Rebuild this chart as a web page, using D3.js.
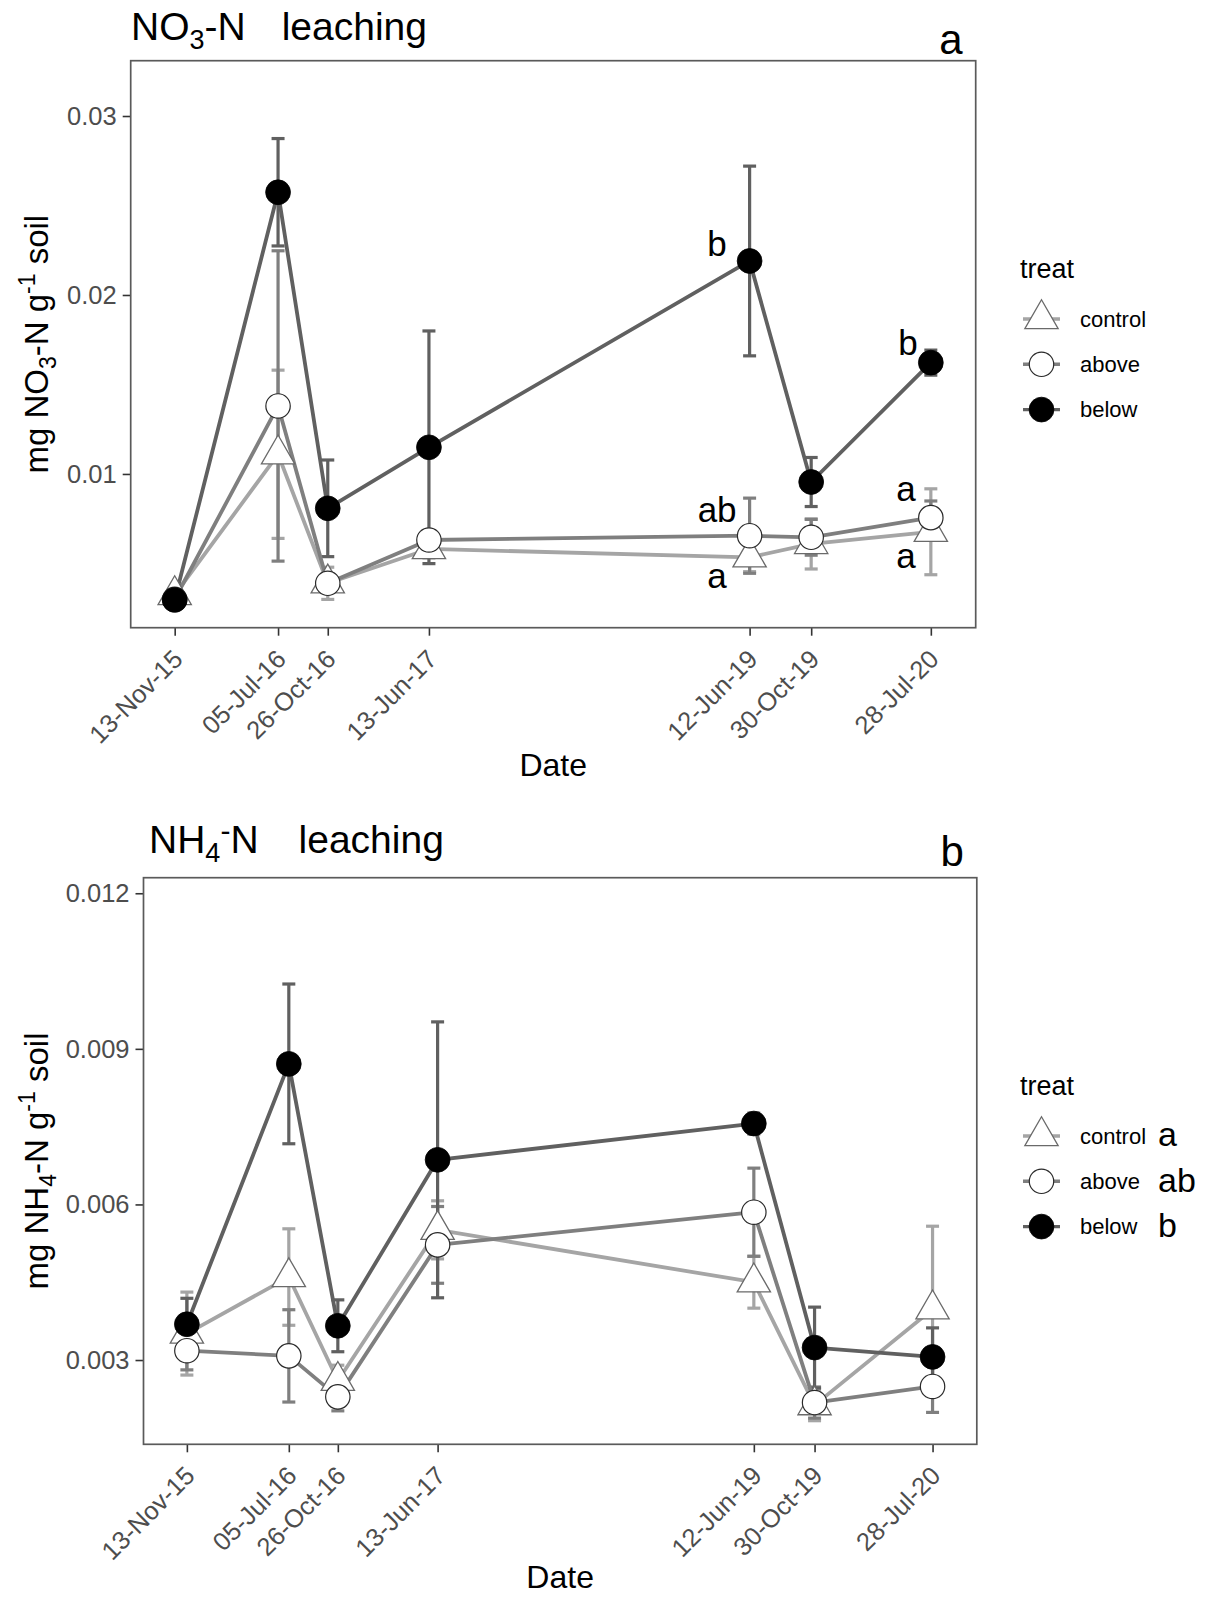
<!DOCTYPE html>
<html><head><meta charset="utf-8">
<script src="https://cdn.jsdelivr.net/npm/d3@7"></script>
<style>
body{margin:0;background:#fff}
text{font-family:"Liberation Sans",Arial,Helvetica,sans-serif;white-space:pre}
</style>
</head><body>
<svg id="chart" width="1216" height="1599"></svg>
<script>
// ---------------- data ----------------
const dates = ["2015-11-13","2016-07-05","2016-10-26","2017-06-13","2019-06-12","2019-10-30","2020-07-28"];
const dateLabels = ["13-Nov-15","05-Jul-16","26-Oct-16","13-Jun-17","12-Jun-19","30-Oct-19","28-Jul-20"];
const treatments = ["control","above","below"];

// NO3-N leaching (mg NO3-N g-1 soil), mean and SE
const no3Control = [0.00324, 0.0111, 0.00389, 0.00581, 0.00534, 0.00609, 0.00677];
const no3ControlSE = [0.0002, 0.0047, 0.0009, 0.0005, 0.0008, 0.0014, 0.0024];
const no3Above = [0.0030, 0.0138, 0.00389, 0.00631, 0.00655, 0.00646, 0.00756];
const no3AboveSE = [0.0002, 0.00867, 0.0004, 0.0004, 0.0021, 0.0010, 0.00093];
const no3Below = [0.00296, 0.02574, 0.00808, 0.01149, 0.0219, 0.00955, 0.01622];
const no3BelowSE = [0.0002, 0.0030, 0.0027, 0.0065, 0.0053, 0.00137, 0.0007];
const no3Ticks = [0.01, 0.02, 0.03];
const no3TickLabels = ["0.01", "0.02", "0.03"];
// significance letters: date index, y value, text
const no3LetterIdx = [4, 4, 4, 6, 6, 6];
const no3LetterVal = [0.02218, 0.00732, 0.00363, 0.01665, 0.00849, 0.00475];
const no3LetterText = ["b", "ab", "a", "b", "a", "a"];

// NH4-N leaching (mg NH4-N g-1 soil), mean and SE
const nh4Control = [0.00351, 0.0046, 0.0026, 0.00551, 0.0045, 0.00213, 0.00398];
const nh4ControlSE = [0.0008, 0.00093, 0.0003, 0.00056, 0.0005, 0.0003, 0.0016];
const nh4Above = [0.00318, 0.00308, 0.00229, 0.00522, 0.00585, 0.00218, 0.00249];
const nh4AboveSE = [0.00037, 0.00089, 0.00027, 0.00074, 0.00085, 0.0003, 0.0005];
const nh4Below = [0.00369, 0.00871, 0.00366, 0.00686, 0.00756, 0.00324, 0.00306];
const nh4BelowSE = [0.0005, 0.00154, 0.0005, 0.00266, 0.0002, 0.00078, 0.00056];
const nh4Ticks = [0.003, 0.006, 0.009, 0.012];
const nh4TickLabels = ["0.003", "0.006", "0.009", "0.012"];
const nh4LegendLetters = ["a", "ab", "b"];

// ---------------- drawing ----------------
const svg = d3.select("#chart");
const parse = d3.timeParse("%Y-%m-%d");
const dateObjs = dates.map(parse);
const DAY = 864e5;
const FONT = '"Liberation Sans",Arial,sans-serif';

const lineColor = {control:"#a5a5a5", above:"#7f7f7f", below:"#606060"};
const tri = d3.symbol().type(d3.symbolTriangle).size(480)();

function drawPoint(g, t, x, y){
  if (t === "control") {
    g.append("path").attr("d", tri).attr("transform", `translate(${x},${y})`)
      .attr("fill", "#fff").attr("stroke", "#6a6a6a").attr("stroke-width", 1.3);
  } else if (t === "above") {
    g.append("circle").attr("cx", x).attr("cy", y).attr("r", 12.2)
      .attr("fill", "#fff").attr("stroke", "#2a2a2a").attr("stroke-width", 1.2);
  } else {
    g.append("circle").attr("cx", x).attr("cy", y).attr("r", 12.4)
      .attr("fill", "#000").attr("stroke", "#000").attr("stroke-width", 0.8);
  }
}

function panel(cfg){
  const g = svg.append("g");
  const x = d3.scaleTime()
    .domain([new Date(+dateObjs[0] - 100*DAY), new Date(+dateObjs[dateObjs.length-1] + 102*DAY)])
    .range([cfg.left, cfg.right]);
  const y = d3.scaleLinear().domain(cfg.yDomain).range([cfg.bottom, cfg.top]);

  // y axis
  const ya = g.append("g").attr("transform", `translate(${cfg.left},0)`)
    .call(d3.axisLeft(y).tickValues(cfg.ticks).tickFormat((d,i)=>cfg.tickLabels[i]).tickSize(8).tickPadding(6));
  ya.select(".domain").remove();
  ya.selectAll(".tick line").attr("stroke", "#333").attr("stroke-width", 1.6);
  ya.selectAll(".tick text").attr("fill", "#4d4d4d").style("font-size", "25.5px")
    .style("font-family", FONT);

  // x axis
  const xa = g.append("g").attr("transform", `translate(0,${cfg.bottom})`)
    .call(d3.axisBottom(x).tickValues(dateObjs).tickFormat((d,i)=>dateLabels[i]).tickSize(8));
  xa.select(".domain").remove();
  xa.selectAll(".tick line").attr("stroke", "#333").attr("stroke-width", 1.6);
  xa.selectAll(".tick text").attr("fill", "#4d4d4d").style("font-size", "25.5px")
    .style("font-family", FONT)
    .attr("text-anchor", "end").attr("y", 0).attr("dy", "0.72em")
    .attr("transform", "translate(-4,20) rotate(-45)");

  // panel border
  g.append("rect").attr("x", cfg.left).attr("y", cfg.top)
    .attr("width", cfg.right - cfg.left).attr("height", cfg.bottom - cfg.top)
    .attr("fill", "none").attr("stroke", "#5a5a5a").attr("stroke-width", 1.7);

  const series = treatments.map((t, k) => ({t, vals: cfg.means[k], se: cfg.ses[k]}));

  // error bars
  const eb = g.append("g");
  series.forEach(s => {
    s.vals.forEach((v, i) => {
      const cx = x(dateObjs[i]);
      const y1 = y(v + s.se[i]), y0 = y(v - s.se[i]);
      eb.append("line").attr("x1", cx).attr("x2", cx).attr("y1", y1).attr("y2", y0)
        .attr("stroke", lineColor[s.t]).attr("stroke-width", 3.2);
      [y1, y0].forEach(yy => eb.append("line").attr("x1", cx-6.5).attr("x2", cx+6.5)
        .attr("y1", yy).attr("y2", yy).attr("stroke", lineColor[s.t]).attr("stroke-width", 3.2));
    });
  });

  // lines
  const line = d3.line().x((d,i)=>x(dateObjs[i])).y(d=>y(d));
  series.forEach(s => {
    g.append("path").attr("d", line(s.vals)).attr("fill", "none")
      .attr("stroke", lineColor[s.t]).attr("stroke-width", 3.8).attr("stroke-linejoin", "round");
  });

  // points
  series.forEach(s => {
    const pg = g.append("g");
    s.vals.forEach((v, i) => drawPoint(pg, s.t, x(dateObjs[i]), y(v)));
  });

  // plot title
  cfg.drawTitle(g.append("text").attr("x", cfg.titleX).attr("y", cfg.titleY)
    .style("font-size", "39px").attr("fill", "#000"));

  // panel letter
  g.append("text").attr("x", cfg.right - 13).attr("y", cfg.letterY)
    .attr("text-anchor", "end").style("font-size", "42px").text(cfg.panelLetter);

  // y title
  const yt = g.append("text").attr("transform", `translate(48,${(cfg.top+cfg.bottom)/2}) rotate(-90)`)
    .attr("text-anchor", "middle").style("font-size", "33px").attr("fill", "#000");
  yt.append("tspan").text("mg " + cfg.yParts[0]);
  yt.append("tspan").text(cfg.yParts[1]).style("font-size", "23px").attr("dy", 8);
  yt.append("tspan").text("-N g").attr("dy", -8);
  yt.append("tspan").text("-1").style("font-size", "23px").attr("dy", -13);
  yt.append("tspan").text(" soil").attr("dy", 13);

  // x title
  g.append("text").attr("x", (cfg.left + cfg.right)/2).attr("y", cfg.xTitleY)
    .attr("text-anchor", "middle").style("font-size", "32px").text("Date");

  // legend
  const lg = g.append("g");
  lg.append("text").attr("x", 1020).attr("y", cfg.legendTitleY).style("font-size", "27px").text("treat");
  treatments.forEach((t, k) => {
    const ky = cfg.legendY0 + k * 45.3;
    lg.append("line").attr("x1", 1023).attr("x2", 1060).attr("y1", ky).attr("y2", ky)
      .attr("stroke", lineColor[t]).attr("stroke-width", 3.4);
    drawPoint(lg, t, 1041.5, ky);
    lg.append("text").attr("x", 1080).attr("y", ky).attr("dy", "0.35em")
      .style("font-size", "22px").text(t);
    if (cfg.legendLetters) {
      lg.append("text").attr("x", 1158).attr("y", ky).attr("dy", "0.3em")
        .style("font-size", "34px").text(cfg.legendLetters[k]);
    }
  });

  return {g, x, y};
}

// ---- panel a ----
const pa = panel({
  left: 130.7, right: 975.7, top: 60.7, bottom: 627.7,
  yDomain: [0.00141, 0.03309],
  ticks: no3Ticks, tickLabels: no3TickLabels,
  means: [no3Control, no3Above, no3Below], ses: [no3ControlSE, no3AboveSE, no3BelowSE],
  titleX: 131, titleY: 40,
  drawTitle: t => {
    t.append("tspan").text("NO");
    t.append("tspan").text("3").style("font-size", "27px").attr("dy", 9);
    t.append("tspan").text("-N").attr("dy", -9);
    t.append("tspan").text("leaching").attr("dx", 36);
  },
  panelLetter: "a", letterY: 54,
  yParts: ["NO", "3"],
  xTitleY: 776,
  legendTitleY: 278, legendY0: 319
});
const letterDx = [-23, -13, -23, -13, -15, -15];
no3LetterText.forEach((t, k) => {
  pa.g.append("text")
    .attr("x", pa.x(dateObjs[no3LetterIdx[k]]) + letterDx[k])
    .attr("y", pa.y(no3LetterVal[k]))
    .attr("text-anchor", "end").style("font-size", "35px").text(t);
});

// ---- panel b ----
panel({
  left: 143.5, right: 976.8, top: 877.7, bottom: 1444.3,
  yDomain: [0.001375, 0.0123],
  ticks: nh4Ticks, tickLabels: nh4TickLabels,
  means: [nh4Control, nh4Above, nh4Below], ses: [nh4ControlSE, nh4AboveSE, nh4BelowSE],
  titleX: 149, titleY: 853,
  drawTitle: t => {
    t.append("tspan").text("NH");
    t.append("tspan").text("4").style("font-size", "27px").attr("dy", 9);
    t.append("tspan").text("-").style("font-size", "30px").attr("dy", -21);
    t.append("tspan").text("N").attr("dy", 12);
    t.append("tspan").text("leaching").attr("dx", 40);
  },
  panelLetter: "b", letterY: 866,
  yParts: ["NH", "4"],
  xTitleY: 1588,
  legendTitleY: 1095, legendY0: 1136,
  legendLetters: nh4LegendLetters
});
</script>
</body></html>
